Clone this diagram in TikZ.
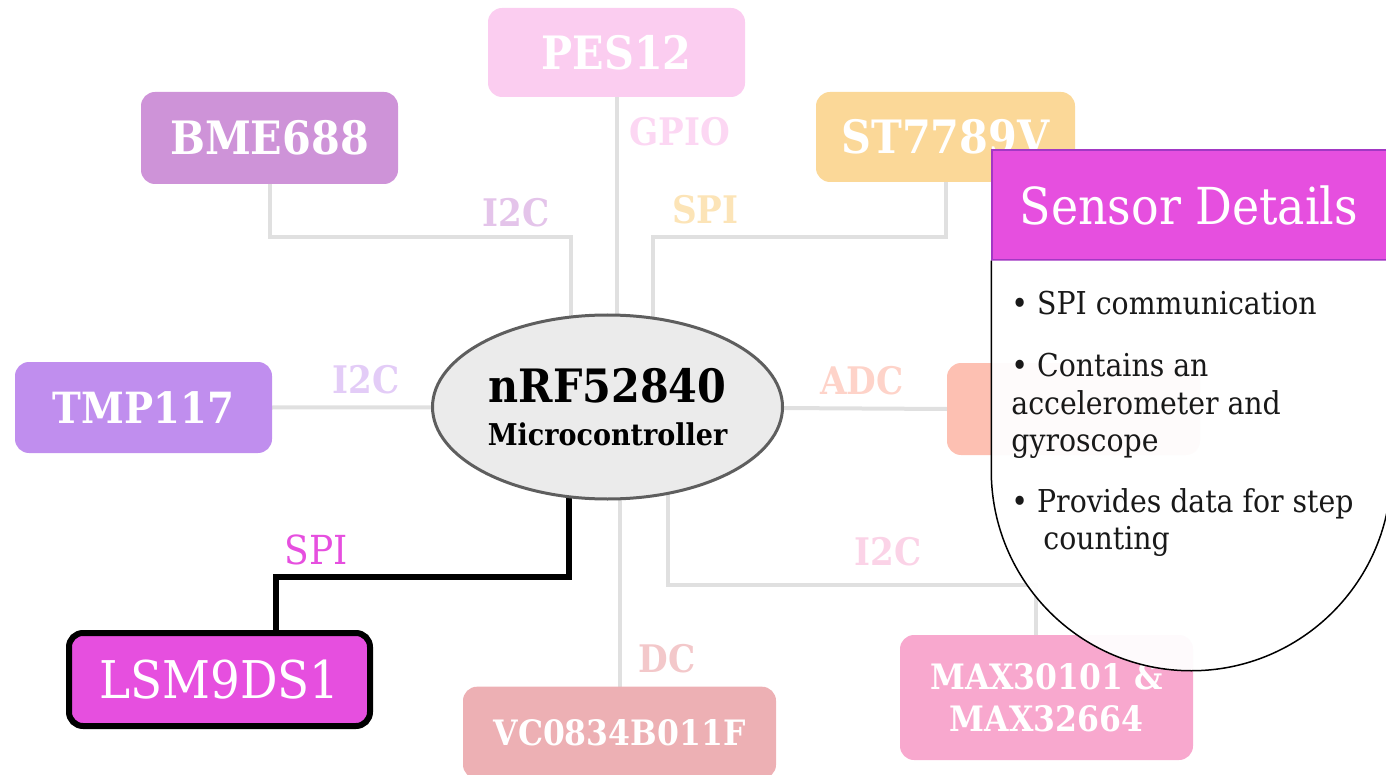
\documentclass[tikz,border=0pt]{standalone}
\usepackage{fontspec}
\setmainfont{DejaVu Serif Condensed}
\usetikzlibrary{positioning,calc,backgrounds,shapes.geometric}
\definecolor{cHot}{HTML}{E64FDF}
\definecolor{cHotEdge}{HTML}{A238C4}
\definecolor{cBme}{HTML}{CE93D8}
\definecolor{cPes}{HTML}{FBCDF0}
\definecolor{cSt}{HTML}{FBD898}
\definecolor{cTmp}{HTML}{C08EEE}
\definecolor{cAdc}{HTML}{FDC0B2}
\definecolor{cMax}{HTML}{F8A8CE}
\definecolor{cVc}{HTML}{EDB0B4}
\definecolor{cWire}{HTML}{E0E0E0}
\definecolor{cMcu}{HTML}{EBEBEB}
\definecolor{cMcuEdge}{HTML}{5E5E5E}
\tikzset{
  fade/.style={rounded corners=14pt,text=white,align=center,inner sep=0pt,font=\fontsize{46}{50}\selectfont\bfseries},
  mcunode/.style={ellipse,fill=cMcu,draw=cMcuEdge,line width=3pt,minimum width=350pt,minimum height=184pt,inner sep=0pt,align=center,font=\bfseries},
  hotnode/.style={rounded corners=14pt,fill=cHot,draw=black,line width=6pt,text=white,minimum width=301pt,minimum height=93pt,font=\fontsize{52}{56}\selectfont},
  wire/.style={draw=cWire,line width=4pt},
  hot/.style={draw=black,line width=6pt},
  lbl/.style={font=\fontsize{38}{40}\selectfont\bfseries,inner sep=3pt},
  head/.style={rectangle,fill=cHot,draw=cHotEdge,line width=1.5pt,minimum width=400pt,minimum height=110pt,text=white,font=\fontsize{51}{56}\selectfont},
  panel/.style={fill=white,fill opacity=0.95,draw=black,line width=1.5pt},
  info/.style={align=left,inner sep=0pt,text=black!90,font=\fontsize{31.5}{37.5}\selectfont}}
\begin{document}
\begin{tikzpicture}[x=1pt,y=-1pt]
\useasboundingbox (0,0) rectangle (1386,775);
% microcontroller
\node[mcunode] (mcu) at (607.5,407) {{\fontsize{46}{50}\selectfont nRF52840}\\[18pt] {\fontsize{30}{34}\selectfont Microcontroller}};
% faded parts
\node[fade,fill=cPes,minimum width=257pt,minimum height=89pt] (pes) at (616.5,52.5) {PES12};
\node[fade,fill=cBme,minimum width=257pt,minimum height=92pt] (bme) at (269.5,138) {BME688};
\node[fade,fill=cSt,minimum width=259pt,minimum height=90pt] (st) at (945.5,137) {ST7789V};
\node[fade,fill=cTmp,minimum width=257pt,minimum height=91pt,font=\fontsize{43}{48}\selectfont\bfseries] (tmp) at (143.5,407.5) {TMP117};
\node[fade,fill=cAdc,minimum width=253pt,minimum height=92pt] (adc) at (1073.5,409) {};
\node[fade,fill=cMax,minimum width=293pt,minimum height=125pt,font=\fontsize{35}{42}\selectfont\bfseries] (max) at (1046.5,697.5) {MAX30101 \&\\ MAX32664};
\node[fade,fill=cVc,minimum width=313pt,minimum height=92pt,below=186pt of mcu,xshift=12pt,font=\fontsize{35}{40}\selectfont\bfseries] (vc) {VC0834B011F};
% highlighted sensor
\node[hotnode] (lsm) at (219.5,679.5) {LSM9DS1};
\begin{scope}[on background layer]
\draw[wire] (bme.south) -- ++(0,53) -| node[lbl,text=cBme!55,above=5pt,pos=0.41] {I2C} ($(mcu.center)+(-37,0)$);
\draw[wire] (pes.south) -- node[lbl,text=cPes!80,right=8pt,pos=0.11] {GPIO} (pes.south |- mcu.center);
\draw[wire] (st.south) -- ++(0,55) -| node[lbl,text=cSt!70,above=8pt,pos=0.41] {SPI} ($(mcu.center)+(45,0)$);
\draw[wire] (tmp.east) -- node[lbl,text=cTmp!45,above=8pt,pos=0.28] {I2C} (mcu.center);
\draw[wire] (mcu.center) -- node[lbl,text=cAdc!70,above=8pt,pos=0.75] {ADC} (adc.west);
\draw[wire] ($(mcu.center)+(60,0)$) |- node[lbl,text=cMax!50,above=14pt,pos=0.8] {I2C} ($(max.north)+(-11,-50)$) -- ($(max.north)+(-11,0)$);
\draw[wire] (vc.north |- mcu.center) -- node[lbl,text=cVc!70,right=14pt,pos=0.9] {DC} (vc.north);
\draw[hot] ($(mcu.center)+(-39,0)$) |- node[lbl,font=\fontsize{40}{42}\selectfont,text=cHot,above=6pt,pos=0.93] {SPI} ($(lsm.north)+(56,-53)$) -- ($(lsm.north)+(56,0)$);
\end{scope}
% details panel
\node[head] (head) at (1192,205) {\hspace*{-6pt}Sensor Details};
\draw[panel] (head.south west) -- ++(0,210) arc[start angle=180,end angle=0,radius=200] -- (head.south east);
\node[info,below right=30pt and 20pt of head.south west] (info) {%
\textbullet{} SPI communication\\[25pt]
\textbullet{} Contains an\\
accelerometer and\\
gyroscope\\[23pt]
\textbullet{} Provides data for step\\
\hspace*{32pt}counting};
\end{tikzpicture}
\end{document}
